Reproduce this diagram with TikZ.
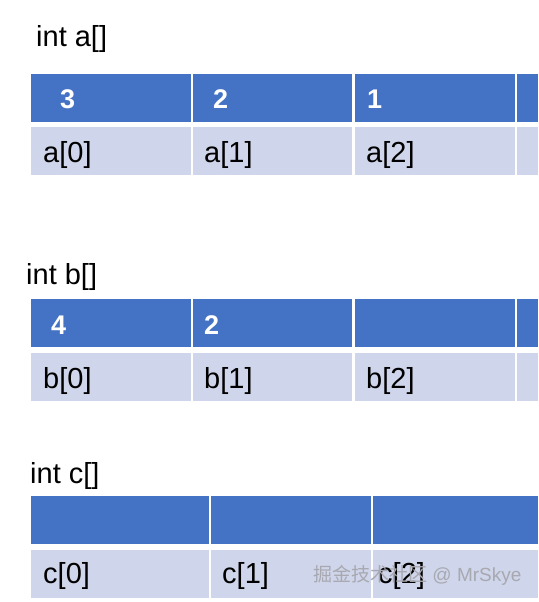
\documentclass[tikz,border=0pt]{standalone}
\usepackage{fontspec}
\setmainfont{Liberation Sans}
\newfontfamily\cjk{Noto Sans CJK SC}
\definecolor{hdr}{HTML}{4472C4}
\definecolor{rowc}{HTML}{CFD5EA}
\definecolor{wm}{HTML}{A8A8B0}
\begin{document}
\begin{tikzpicture}[x=1pt,y=-1pt,
  cell/.style={anchor=north west,inner sep=0pt,outer sep=0pt,minimum height=48pt},
  hcell/.style={cell,fill=hdr},
  lcell/.style={cell,fill=rowc},
  txt/.style={anchor=base west,inner sep=0pt,font=\fontsize{29}{32}\selectfont},
  num/.style={anchor=base west,inner sep=0pt,text=white,font=\fontsize{27}{30}\selectfont\bfseries},
  wmark/.style={anchor=base west,inner sep=0pt,text=wm,font=\fontsize{19}{22}\selectfont}]
\useasboundingbox[fill=white] (0,0) rectangle (538,602);
% ---- array a
\node[txt] (ta) at (36,47) {int a[]};
\node[hcell,minimum width=160pt] (ah0) at (31,74) {};
\node[hcell,minimum width=159pt] (ah1) at (193,74) {};
\node[hcell,minimum width=160pt] (ah2) at (355,74) {};
\node[hcell,minimum width=21pt] (ah3) at (517,74) {};
\node[lcell,minimum width=160pt] (al0) at (31,127) {};
\node[lcell,minimum width=159pt] (al1) at (193,127) {};
\node[lcell,minimum width=160pt] (al2) at (355,127) {};
\node[lcell,minimum width=21pt] (al3) at (517,127) {};
\node[num] (an0) at (60,108) {3};
\node[num] (an1) at (213,108) {2};
\node[num] (an2) at (367,108) {1};
\node[txt] (ax0) at (43,162) {a[0]};
\node[txt] (ax1) at (204,162) {a[1]};
\node[txt] (ax2) at (366,162) {a[2]};
% ---- array b
\node[txt] (tb) at (26,284) {int b[]};
\node[hcell,minimum width=160pt] (bh0) at (31,299) {};
\node[hcell,minimum width=159pt] (bh1) at (193,299) {};
\node[hcell,minimum width=160pt] (bh2) at (355,299) {};
\node[hcell,minimum width=21pt] (bh3) at (517,299) {};
\node[lcell,minimum width=160pt] (bl0) at (31,353) {};
\node[lcell,minimum width=159pt] (bl1) at (193,353) {};
\node[lcell,minimum width=160pt] (bl2) at (355,353) {};
\node[lcell,minimum width=21pt] (bl3) at (517,353) {};
\node[num] (bn0) at (51,334) {4};
\node[num] (bn1) at (204,334) {2};
\node[txt] (bx0) at (43,388) {b[0]};
\node[txt] (bx1) at (204,388) {b[1]};
\node[txt] (bx2) at (366,388) {b[2]};
% ---- array c
\node[txt] (tc) at (30,483) {int c[]};
\node[hcell,minimum width=178pt] (ch0) at (31,496) {};
\node[hcell,minimum width=160pt] (ch1) at (211,496) {};
\node[hcell,minimum width=165pt] (ch2) at (373,496) {};
\node[lcell,minimum width=178pt] (cl0) at (31,550) {};
\node[lcell,minimum width=160pt] (cl1) at (211,550) {};
\node[lcell,minimum width=165pt] (cl2) at (373,550) {};
\node[txt] (cx0) at (43,583) {c[0]};
\node[txt] (cx1) at (222,583) {c[1]};
\node[txt] (cx2) at (378,583) {c[2]};
% ---- watermark
\node[wmark] (wm) at (313,581) {{\cjk 掘金技术社区} @ MrSkye};
\end{tikzpicture}
\end{document}
